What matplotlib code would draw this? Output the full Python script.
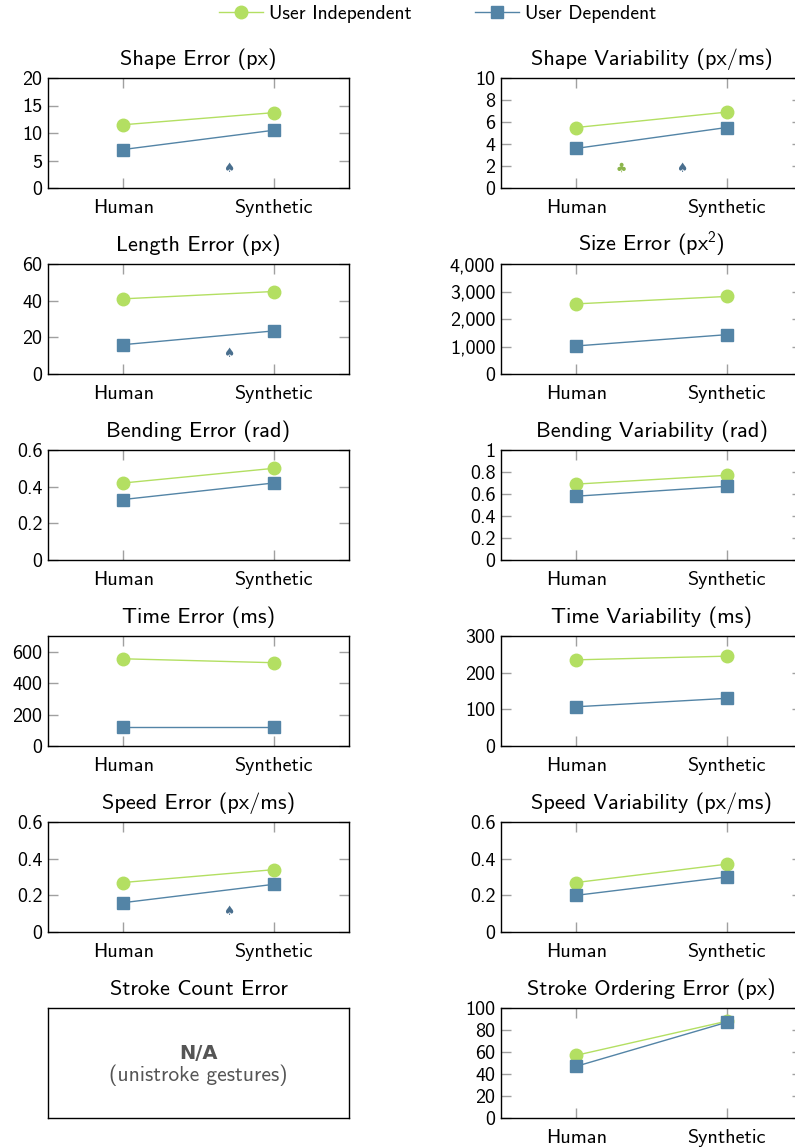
import matplotlib
matplotlib.use("Agg")
import matplotlib.pyplot as plt
from matplotlib.lines import Line2D

plt.rcParams['font.family'] = ['cmss10', 'DejaVu Sans']
plt.rcParams['mathtext.fontset'] = 'custom'
plt.rcParams['mathtext.rm'] = 'cmss10'
plt.rcParams['axes.formatter.use_mathtext'] = True

GREEN = '#b3df62'
BLUE = '#5384a6'
GREEN_DARK = '#8cb54c'
BLUE_DARK = '#4a6f8e'
TICK_GRAY = '#a0a0a0'

conditions = ['Human', 'Synthetic']

# one entry per panel: title, UI values, UD values, y ticks, y tick labels
titles = ['Shape Error (px)', 'Shape Variability (px/ms)',
          'Length Error (px)', r'Size Error (px$^{2}$)',
          'Bending Error (rad)', 'Bending Variability (rad)',
          'Time Error (ms)', 'Time Variability (ms)',
          'Speed Error (px/ms)', 'Speed Variability (px/ms)',
          'Stroke Count Error', 'Stroke Ordering Error (px)']

user_independent = [[11.5, 13.7], [5.5, 6.9],
                    [41, 45], [2550, 2820],
                    [0.42, 0.50], [0.69, 0.77],
                    [555, 530], [235, 245],
                    [0.27, 0.34], [0.27, 0.37],
                    None, [57, 88]]

user_dependent = [[7.0, 10.5], [3.6, 5.5],
                  [16, 23.5], [1020, 1430],
                  [0.33, 0.42], [0.58, 0.67],
                  [120, 120], [107, 130],
                  [0.16, 0.26], [0.20, 0.30],
                  None, [47, 87]]

y_limits = [20, 10, 60, 4000, 0.6, 1, 700, 300, 0.6, 0.6, None, 100]
y_ticks = [[0, 5, 10, 15, 20], [0, 2, 4, 6, 8, 10],
           [0, 20, 40, 60], [0, 1000, 2000, 3000, 4000],
           [0, 0.2, 0.4, 0.6], [0, 0.2, 0.4, 0.6, 0.8, 1],
           [0, 200, 400, 600], [0, 100, 200, 300],
           [0, 0.2, 0.4, 0.6], [0, 0.2, 0.4, 0.6],
           None, [0, 20, 40, 60, 80, 100]]
y_tick_labels = [['0', '5', '10', '15', '20'], ['0', '2', '4', '6', '8', '10'],
                 ['0', '20', '40', '60'], ['0', '1,000', '2,000', '3,000', '4,000'],
                 ['0', '0.2', '0.4', '0.6'], ['0', '0.2', '0.4', '0.6', '0.8', '1'],
                 ['0', '200', '400', '600'], ['0', '100', '200', '300'],
                 ['0', '0.2', '0.4', '0.6'], ['0', '0.2', '0.4', '0.6'],
                 None, ['0', '20', '40', '60', '80', '100']]

# significance symbols: (panel, x position, y value, symbol, which series)
sig_marks = [(0, 0.7, 3.6, '\u2660', 'ud'),
             (1, 0.3, 1.8, '\u2663', 'ui'),
             (1, 0.7, 1.8, '\u2660', 'ud'),
             (2, 0.7, 11.4, '\u2660', 'ud'),
             (8, 0.7, 0.11, '\u2660', 'ud')]

W, H = 795, 1148
fig = plt.figure(figsize=(W / 100, H / 100), dpi=100)

col_x = [48, 501]
row_top = [78, 264, 450, 636, 822, 1008]
ax_w, ax_h = 301, 110

axes = []
for i in range(12):
    r, c = divmod(i, 2)
    x0 = col_x[c] / W
    y0 = 1 - (row_top[r] + ax_h) / H
    ax = fig.add_axes([x0, y0, ax_w / W, ax_h / H])
    axes.append(ax)
    ax.set_title(titles[i], fontsize=16, pad=9.5)
    for sp in ax.spines.values():
        sp.set_linewidth(1.0)
        sp.set_color('black')
    if user_independent[i] is None:
        ax.set_xticks([])
        ax.set_yticks([])
        ax.text(0.5, 0.59, 'N/A', transform=ax.transAxes, ha='center', va='center',
                fontsize=14, fontweight='bold', color='#555555',
                family=['DejaVu Sans'])
        ax.text(0.5, 0.39, '(unistroke gestures)', transform=ax.transAxes,
                ha='center', va='center', fontsize=15.5, color='#555555')
        continue
    xs = range(len(conditions))
    ax.plot(xs, user_independent[i], color=GREEN, lw=1.0, marker='o', ms=9,
            mec=GREEN, mfc=GREEN, zorder=3)
    ax.plot(xs, user_dependent[i], color=BLUE, lw=1.0, marker='s', ms=8.3,
            mec=BLUE, mfc=BLUE, zorder=3)
    ax.set_xlim(-0.5, 1.5)
    ax.set_ylim(0, y_limits[i])
    ax.set_xticks(list(xs))
    ax.set_xticklabels(conditions)
    ax.set_yticks(y_ticks[i])
    ax.set_yticklabels(y_tick_labels[i])
    ax.tick_params(direction='in', length=7, width=1.0, color=TICK_GRAY,
                   labelsize=14.5, top=True, right=True, labelcolor='black')
    ax.tick_params(axis='x', pad=8)
    ax.tick_params(axis='y', pad=4)

for i, xpos, yval, sym, series in sig_marks:
    col = BLUE_DARK if series == 'ud' else GREEN_DARK
    axes[i].text(xpos, yval, sym, ha='center', va='center', fontsize=9,
                 color=col, family=['DejaVu Sans'])

handles = [Line2D([], [], color=GREEN, lw=1.0, marker='o', ms=9),
           Line2D([], [], color=BLUE, lw=1.0, marker='s', ms=8.3)]
fig.legend(handles, ['User Independent', 'User Dependent'], loc='center',
           bbox_to_anchor=(437.5 / W, 1 - 14 / H), ncol=2, frameon=False,
           fontsize=14.2, handlelength=2.23, columnspacing=3.25, handletextpad=0.3,
           borderpad=0.2)

fig.savefig('out.png', dpi=100)
